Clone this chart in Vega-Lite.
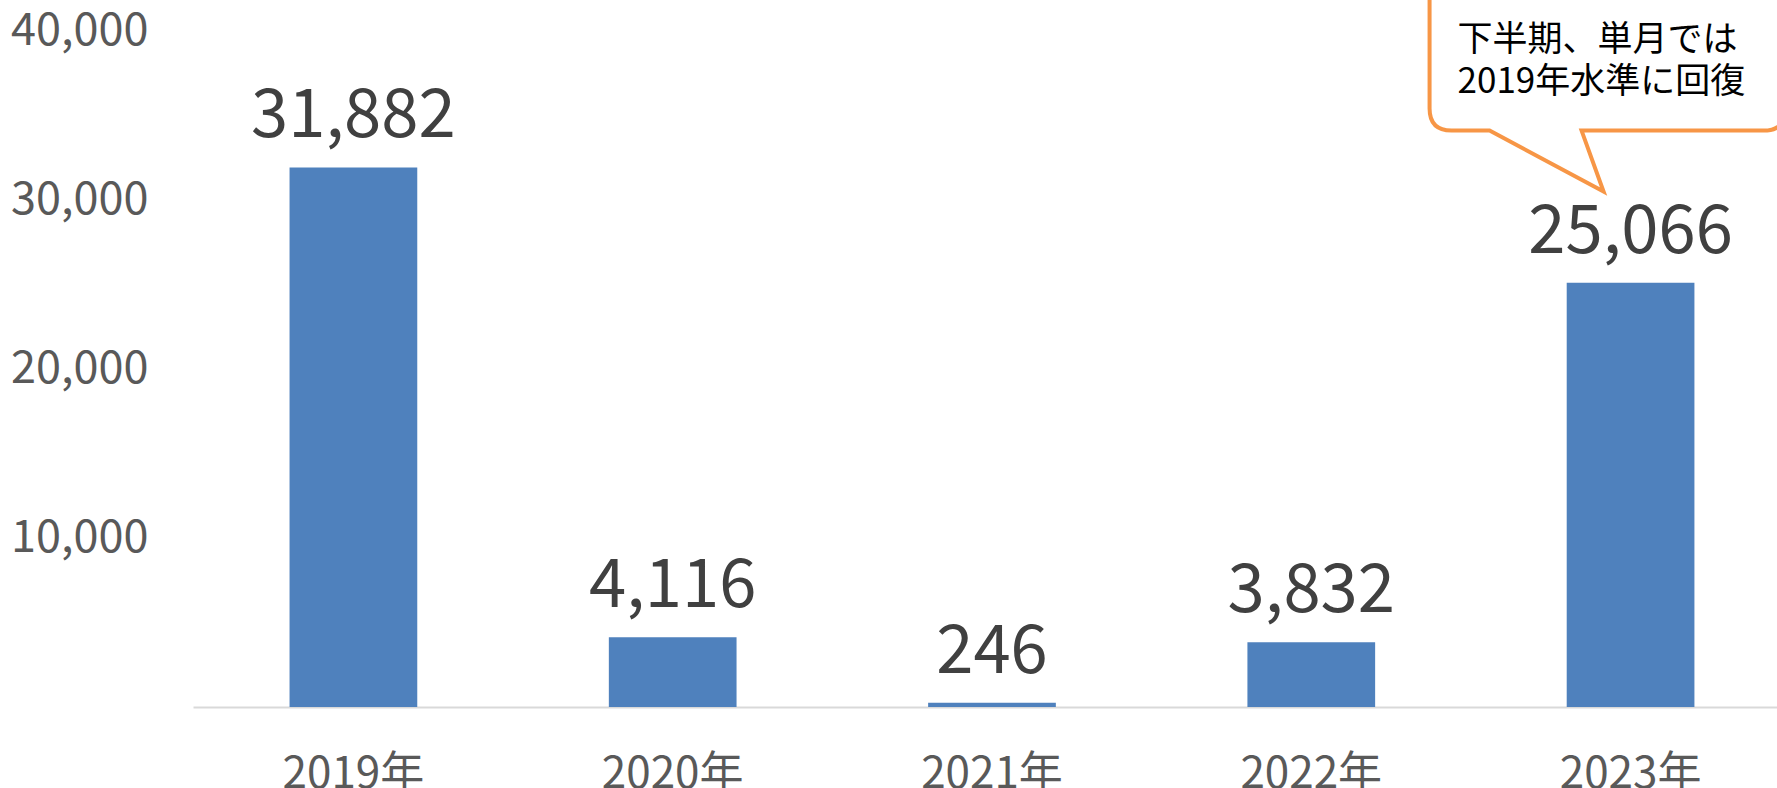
{
  "$schema": "https://vega.github.io/schema/vega-lite/v6.json",
  "autosize": "none",
  "width": 1584,
  "height": 677,
  "padding": {"left": 193, "top": 30, "right": 0, "bottom": 81},
  "background": "white",
  "config": {
    "view": {"stroke": null},
    "font": "Noto Sans CJK JP",
    "axis": {"labelFont": "Noto Sans CJK JP"}
  },
  "datasets": {
    "bars": [
      {"year": "2019年", "value": 31882},
      {"year": "2020年", "value": 4116},
      {"year": "2021年", "value": 246},
      {"year": "2022年", "value": 3832},
      {"year": "2023年", "value": 25066}
    ],
    "note": [
      {"year": "2023年", "value": 40000, "note": ["下半期、単月では", "2019年水準に回復"]}
    ]
  },
  "layer": [
    {
      "data": {"name": "bars"},
      "encoding": {
        "x": {
          "field": "year",
          "type": "nominal",
          "sort": null,
          "scale": {"paddingInner": 0.6, "paddingOuter": 0.2805, "align": 0.539},
          "axis": {
            "title": null,
            "labelAngle": 0,
            "labelFontSize": 44,
            "labelColor": "#595959",
            "ticks": false,
            "labelPadding": 45,
            "domainColor": "#D9D9D9",
            "domainWidth": 2
          }
        },
        "y": {
          "field": "value",
          "type": "quantitative",
          "scale": {"domain": [0, 40000], "nice": false},
          "axis": {
            "title": null,
            "values": [10000, 20000, 30000, 40000],
            "format": ",d",
            "labelFontSize": 45,
            "labelColor": "#595959",
            "labelPadding": 45,
            "ticks": false,
            "domain": false,
            "grid": false
          }
        }
      },
      "layer": [
        {"mark": {"type": "bar", "color": "#4F81BD"}},
        {
          "mark": {"type": "text", "baseline": "alphabetic", "dy": -30, "fontSize": 67, "color": "#404040"},
          "encoding": {"text": {"field": "value", "type": "quantitative", "format": ","}}
        }
      ]
    },
    {
      "data": {"name": "note"},
      "encoding": {
        "x": {"field": "year", "type": "nominal", "sort": null},
        "y": {"field": "value", "type": "quantitative"}
      },
      "layer": [
        {
          "mark": {
            "type": "point",
            "shape": "M -179 -60 L 133 -60 Q 155 -60 155 -38 L 155 78.6 Q 155 100.6 133 100.6 L -49 100.6 L -27 161.6 L -141 100.6 L -179 100.6 Q -201 100.6 -201 78.6 L -201 -38 Q -201 -60 -179 -60 Z",
            "size": 4,
            "filled": true,
            "fill": "white",
            "fillOpacity": 1,
            "stroke": "#F79646",
            "strokeWidth": 4,
            "opacity": 1
          }
        },
        {
          "mark": {
            "type": "text",
            "align": "left",
            "baseline": "middle",
            "dx": -173,
            "dy": 10,
            "fontSize": 35,
            "lineHeight": 42,
            "color": "#000000"
          },
          "encoding": {"text": {"field": "note"}}
        }
      ]
    }
  ]
}
